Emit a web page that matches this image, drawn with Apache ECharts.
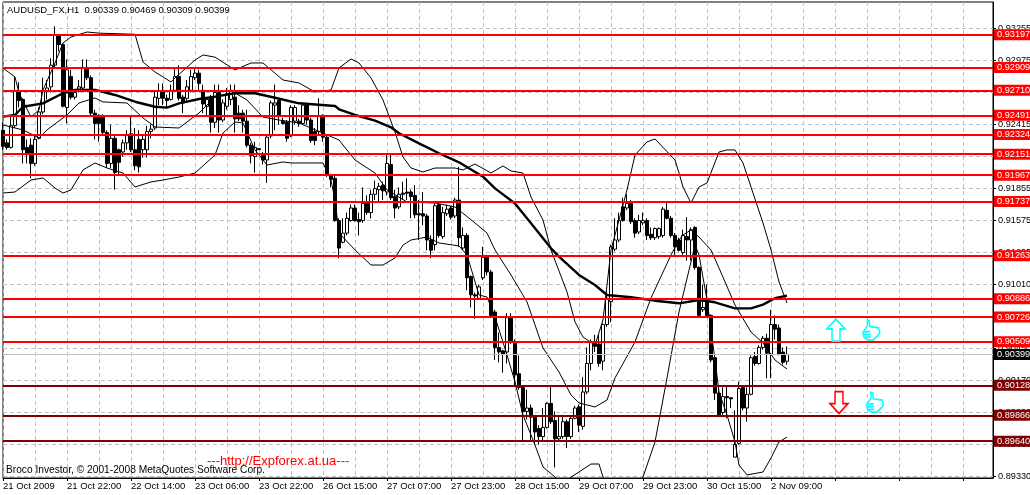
<!DOCTYPE html>
<html><head><meta charset="utf-8">
<style>html,body{margin:0;padding:0;background:#fff}#c{width:1030px;height:495px}</style>
<script src="https://cdn.jsdelivr.net/npm/echarts@6/dist/echarts.min.js"></script>
</head><body><div id="c"></div>
<script>
// all prices below are in units of 0.0001
const opens=[9236,9225,9221,9240,9270,9263,9221,9223,9207,9229,9252,9270,9274,9293,9319,9311,9256,9283,9265,9272,9273,9291,9282,9251,9249,9249,9234,9207,9229,9219,9217,9225,9233,9219,9228,9219,9219,9235,9238,9264,9270,9264,9263,9271,9283,9265,9264,9271,9282,9286,9271,9257,9264,9243,9269,9245,9257,9263,9265,9251,9251,9244,9223,9213,9220,9215,9210,9231,9258,9262,9244,9243,9231,9244,9244,9242,9259,9245,9235,9235,9249,9230,9197,9194,9157,9138,9146,9157,9168,9158,9157,9173,9164,9180,9184,9188,9182,9206,9178,9169,9181,9182,9182,9179,9163,9163,9161,9140,9136,9171,9143,9163,9168,9161,9175,9133,9144,9108,9092,9089,9107,9125,9112,9077,9046,9043,9042,9072,9051,9023,9011,8990,8993,8985,8975,8968,8976,8997,8982,8966,8968,8981,8968,8984,8994,8977,9007,9032,9050,9049,9034,9066,9086,9132,9140,9169,9168,9172,9157,9147,9155,9157,9145,9142,9143,9144,9166,9159,9144,9140,9129,9143,9140,9151,9116,9079,9086,9074,9037,9006,8989,9003,9002,8950,8962,9011,8993,9005,9038,9032,9046,9054,9040,9066,9063,9042,9033.9];
const closes=[9222,9221,9240,9270,9262,9219,9216,9207,9228,9252,9270,9273,9293,9319,9311,9257,9289,9265,9269,9274,9291,9282,9251,9242,9242,9234,9207,9229,9199,9208,9225,9232,9219,9205,9204,9228,9235,9237,9265,9270,9264,9262,9271,9283,9264,9260,9274,9283,9286,9277,9259,9263,9243,9269,9245,9260,9268,9271,9246,9246,9244,9223,9214,9221,9219,9210,9230,9260,9260,9249,9242,9229,9256,9256,9242,9258,9245,9227,9227,9248,9230,9197,9193,9157,9133,9146,9159,9168,9157,9156,9172,9164,9180,9185,9187,9183,9207,9177,9168,9180,9180,9181,9178,9162,9162,9161,9140,9131,9170,9144,9164,9167,9160,9175,9142,9144,9107,9092,9091,9099,9125,9112,9074,9046,9042,9040,9072,9051,9022,9011,8990,8993,8985,8972,8968,8976,8997,8981,8966,8968,8981,8968,8984,8993,8978,9007,9032,9051,9047,9032,9066,9089,9134,9140,9157,9157,9172,9156,9146,9157,9157,9144,9142,9150,9150,9167,9159,9144,9134,9131,9144,9140,9149,9116,9074,9081,9074,9035,9006,8987,9003,9002,9001,8961,9010,8993,9005,9037,9032,9046,9054,9041,9066,9062,9040,9033,9039.9];
const lows=[9219,9219,9220,9238,9256,9207,9207,9194,9205,9228,9250,9263,9269,9291,9305,9256,9242,9263,9263,9269,9271,9280,9249,9228,9226,9232,9203,9203,9184,9197,9213,9219,9217,9201,9199,9212,9212,9229,9236,9258,9258,9256,9262,9270,9262,9251,9262,9269,9280,9271,9251,9249,9234,9238,9234,9243,9254,9258,9234,9244,9234,9221,9207,9199,9219,9206,9190,9229,9236,9241,9241,9226,9230,9241,9239,9241,9241,9225,9223,9232,9226,9195,9186,9156,9124,9137,9144,9156,9156,9144,9155,9162,9159,9175,9173,9175,9179,9175,9159,9167,9175,9175,9159,9159,9140,9153,9131,9124,9131,9142,9141,9161,9158,9159,9134,9131,9096,9081,9071,9088,9105,9109,9073,9035,9033,9024,9032,9049,9013,9009,8965,8983,8965,8961,8961,8965,8975,8979,8941,8965,8966,8958,8966,8983,8972,8974,9005,9026,9042,9029,9026,9064,9068,9130,9138,9156,9166,9154,9142,9145,9153,9140,9140,9140,9141,9142,9158,9142,9127,9130,9127,9122,9122,9114,9073,9077,9072,9033,9000,8985,8987,8984,8993,8950,8961,8991,8981,9004,9030,9031,9044,9019,9019,9053,9039,9031,9030.9];
const highs=[9243,9228,9249,9283,9278,9264,9228,9229,9232,9256,9282,9280,9299,9327,9320,9312,9298,9289,9271,9280,9298,9298,9284,9254,9250,9250,9236,9241,9231,9220,9228,9236,9248,9238,9236,9231,9240,9241,9271,9277,9277,9267,9276,9291,9293,9267,9280,9289,9290,9289,9276,9265,9267,9276,9276,9263,9273,9276,9276,9258,9254,9254,9225,9226,9220,9217,9232,9262,9276,9262,9247,9245,9258,9258,9246,9260,9260,9247,9238,9264,9250,9232,9198,9196,9159,9159,9164,9171,9171,9164,9186,9179,9184,9192,9190,9191,9216,9216,9184,9186,9191,9194,9184,9188,9175,9182,9163,9144,9173,9172,9169,9171,9170,9177,9204,9151,9146,9109,9094,9101,9134,9127,9114,9079,9059,9044,9076,9076,9053,9039,9013,9009,8996,8987,8978,8993,8998,9013,8990,8987,8987,8983,8986,8995,8996,9020,9046,9053,9057,9057,9067,9095,9136,9159,9164,9177,9180,9175,9159,9162,9164,9159,9151,9151,9151,9169,9173,9161,9146,9142,9149,9160,9151,9152,9117,9101,9101,9075,9038,9013,9011,9013,9002,8991,9016,9013,9011,9039,9042,9048,9056,9058,9079,9074,9066,9046,9046.9];

const maLine=[[0,9247.9],[3,9249.4],[5,9256.6],[10,9259.6],[15,9268.4],[18,9271.3],[23,9271.3],[28,9266.9],[33,9261],[38,9256.6],[41,9255.8],[44,9259.6],[49,9263.4],[53,9265.4],[58,9268.4],[63,9268.4],[68,9264.5],[74,9259.6],[83,9257.3],[84,9254.4],[88,9249.4],[93,9244.4],[97,9238.6],[99,9233.4],[104,9224.6],[109,9215.9],[114,9208],[120,9195.4],[123,9185.2],[128,9172],[132,9154.6],[137,9132.7],[139,9125.4],[144,9109.4],[148,9100.6],[151,9091.9],[157,9089.9],[163,9086.9],[169,9084.6],[174,9087.5],[178,9085.5],[183,9080.2],[187,9080.2],[190,9083.5],[193,9089],[196,9091.3]];
const upperBand=[[0,9290.5],[3,9282.6],[4,9268.6],[7,9247.6],[9,9253.8],[10,9271.3],[13,9294.9],[15,9312.4],[17,9317.6],[21,9322],[24,9321],[33,9320],[35,9295.8],[38,9287],[42,9278.3],[43,9281.8],[48,9297.5],[50,9301.9],[53,9300],[58,9288.8],[62,9294.9],[65,9294.9],[70,9280],[74,9277.4],[78,9269.5],[82,9271.3],[84,9290.5],[87,9298.4],[89,9294.9],[92,9281.8],[95,9262.5],[98,9234.5],[100,9212.6],[102,9203],[105,9199.5],[108,9203],[113,9203],[115,9201.3],[118,9206.5],[122,9198.6],[125,9204.8],[127,9200.4],[130,9198.6],[132,9177.6],[135,9157.5],[137,9131.3],[141,9094.5],[143,9068.3],[145,9055.1],[148,9048.1],[150,9070],[151,9100.6],[152,9131.3],[156,9183.8],[158,9214.4],[161,9225.8],[163,9228.4],[168,9210],[169,9198.6],[170,9186.4],[172,9172.4],[174,9186.4],[176,9189.9],[179,9217],[181,9218.8],[183,9218.8],[185,9207.4],[187,9186.4],[190,9154.9],[192,9131.3],[194,9103.3],[196,9084.9]];
const middleBand=[[0,9240.6],[5,9236.3],[9,9229.3],[11,9236.3],[16,9249.4],[19,9259.9],[23,9264.3],[25,9260.8],[31,9259.9],[35,9246.8],[38,9238.9],[44,9238],[49,9251.1],[53,9265.1],[58,9268.6],[61,9262.5],[65,9247.6],[69,9245],[74,9242.4],[84,9227.5],[88,9210],[93,9198.6],[96,9183.8],[101,9173.3],[108,9172.4],[113,9168.9],[118,9154.9],[121,9146.1],[123,9131.3],[127,9109.4],[131,9085.8],[135,9045.5],[139,9024.5],[142,9004.4],[144,8997.4],[148,8993.9],[151,9000],[153,9019.3],[158,9050.8],[162,9089.3],[167,9126.9],[169,9140],[170,9144.4],[172,9148.8],[174,9142.6],[177,9131.3],[179,9115.5],[183,9083.1],[187,9059.5],[190,9049.9],[193,9035],[196,9027.1]];
const lowerBand=[[0,9181.1],[3,9182],[7,9192.5],[10,9194.3],[13,9185.5],[15,9181.1],[17,9183.8],[20,9201.3],[23,9207.4],[26,9203],[30,9198.6],[33,9186.4],[37,9190.8],[40,9192.5],[44,9195.1],[48,9198.6],[53,9214.4],[55,9233.6],[58,9243.3],[60,9242.4],[63,9218.8],[66,9205.6],[70,9208.3],[72,9207.4],[80,9207.4],[82,9192.5],[83,9175],[84,9146.1],[88,9131.3],[92,9118.1],[95,9118.1],[98,9124.3],[100,9135.6],[102,9140],[106,9142.6],[109,9137.4],[114,9134.8],[116,9126.9],[119,9091.9],[121,9090.1],[123,9072.6],[126,9039.4],[128,9015.8],[130,8986.9],[133,8960.6],[135,8941.4],[138,8932.6],[141,8921],[142,8932.6],[144,8937],[147,8944],[149,8944],[150,8932.6],[155,8903.8],[160,8932.6],[163,8963.3],[166,9019.3],[169,9077],[173,9135.6],[174,9126.9],[176,9087.5],[178,9035],[179,9007],[181,8986.9],[183,8963.3],[184,8943.1],[186,8934.4],[190,8937],[192,8949.3],[194,8963.3],[196,8967.6]];

const redLevels=[0.93197,0.92909,0.92710,0.92491,0.92324,0.92151,0.91967,0.91737,0.91263,0.90886,0.90726,0.90509];
const darkLevels=[0.90128,0.89866,0.89640];
const lastPrice=0.90399;
const priceTicks=[0.93255,0.92975,0.92695,0.92415,0.92135,0.91855,0.91575,0.91295,0.91010,0.90730,0.90450,0.90170,0.89890,0.89610,0.89330];
const dateLabels=['21 Oct 2009','21 Oct 22:00','22 Oct 14:00','23 Oct 06:00','23 Oct 22:00','26 Oct 15:00','27 Oct 07:00','27 Oct 23:00','28 Oct 15:00','29 Oct 07:00','29 Oct 23:00','30 Oct 15:00','2 Nov 09:00'];
const upSignals=[[208.25,9061.2]];
const downSignals=[[209,8997.8]];
const thumbSignals=[[217.1,9061.2],[218,8998]];

const FONT='"Liberation Sans",Arial,sans-serif';
const toPrice=a=>a.map(p=>[p[0],p[1]/1e4]);
const candles=opens.map((o,i)=>[i,o/1e4,closes[i]/1e4,lows[i]/1e4,highs[i]/1e4]);
const thinLine=(name,d,w)=>({name,type:'line',data:toPrice(d),showSymbol:false,symbol:'none',silent:true,animation:false,z:3,
  lineStyle:{color:'#000',width:w},itemStyle:{color:'#000'}});
const levelItem=(v,bg,lw,lc)=>({yAxis:v,lineStyle:{color:lc,width:lw,type:'solid'},
  label:{show:true,position:'end',distance:1,formatter:v.toFixed(5),color:'#fff',backgroundColor:bg,
    fontFamily:FONT,fontSize:9.2,padding:[1,8,0,3],lineHeight:10}});
const scatter=(d,path,size,col)=>({type:'scatter',data:toPrice(d),symbol:'path://'+path,symbolSize:size,silent:true,animation:false,z:6,
  itemStyle:{color:'#fff',borderColor:col,borderWidth:1.6,opacity:1}});

const chart=echarts.init(document.getElementById('c'),null,{renderer:'canvas'});
chart.setOption({
  animation:false,backgroundColor:'#fff',
  grid:{left:3,right:37,top:2,bottom:17,show:true,borderColor:'#000',borderWidth:1,outerBoundsMode:'none'},
  xAxis:{type:'value',min:0,max:247.5,interval:16,
    axisLine:{show:true,lineStyle:{color:'#000',width:1}},
    axisTick:{show:true,length:3,lineStyle:{color:'#000'}},
    minorTick:{show:false,splitNumber:2},
    splitLine:{show:true,lineStyle:{color:'#c0c0c0',type:[4,3]}},
    minorSplitLine:{show:true,lineStyle:{color:'#c0c0c0',type:[4,3]}},
    axisLabel:{show:true,align:'left',margin:3,color:'#000',fontFamily:FONT,fontSize:9.5,showMaxLabel:false,
      formatter:v=>dateLabels[v/16]||''}},
  yAxis:{type:'value',position:'right',min:0.893175,max:0.934825,scale:true,
    axisLine:{show:true,onZero:false,lineStyle:{color:'#000',width:1}},
    axisTick:{show:true,length:3,lineStyle:{color:'#000'},customValues:priceTicks},
    splitLine:{show:true,lineStyle:{color:'#c0c0c0',type:[4,3]},customValues:priceTicks},
    axisLabel:{show:true,margin:5,color:'#000',fontFamily:FONT,fontSize:9.2,customValues:priceTicks,formatter:v=>v.toFixed(5)}},
  series:[
    {name:'AUDUSD',type:'candlestick',data:candles,encode:{x:0,y:[1,2,3,4]},barWidth:3,silent:true,animation:false,z:2,
      itemStyle:{color:'#fff',color0:'#000',borderColor:'#000',borderColor0:'#000',borderWidth:1}},
    thinLine('Upper',upperBand,1),thinLine('Middle',middleBand,1),thinLine('Lower',lowerBand,1),thinLine('MA',maLine,2.4),
    {type:'line',data:[],silent:true,markLine:{silent:true,animation:false,symbol:'none',z:5,precision:5,
      data:[levelItem(lastPrice,'#000',1,'#c0c0c0')]
        .concat(redLevels.map(v=>levelItem(v,'#f00',2,'#f00')))
        .concat(darkLevels.map(v=>levelItem(v,'#7f0000',2,'#7f0000')))}},
    scatter(upSignals,'M50 0L100 45L72 45L72 100L28 100L28 45L0 45Z',[18,22],'#00ffff'),
    scatter(downSignals,'M28 0L72 0L72 55L100 55L50 100L0 55L28 55Z',[18,22],'#ff0000'),
    scatter(thumbSignals,'M28 2L38 6L42 34L92 40L100 62L88 78L60 100L28 98L8 86L2 62L16 46L28 30ZM10 62L44 58M8 74L46 72M14 86L48 86',[17,20],'#00ffff')
  ],
  graphic:[
    {type:'text',left:7,top:5,z:20,style:{text:'AUDUSD_FX,H1  0.90339 0.90469 0.90309 0.90399',fontFamily:FONT,fontSize:9.5,fill:'#000'}},
    {type:'text',left:6,top:465,z:20,style:{text:'Broco Investor, © 2001-2008 MetaQuotes Software Corp.',fontFamily:FONT,fontSize:10.2,fill:'#000'}},
    {type:'text',left:207,top:455,z:20,style:{text:'---http://Expforex.at.ua---',fontFamily:FONT,fontSize:13,fill:'#f00'}}
  ]
});
</script></body></html>
